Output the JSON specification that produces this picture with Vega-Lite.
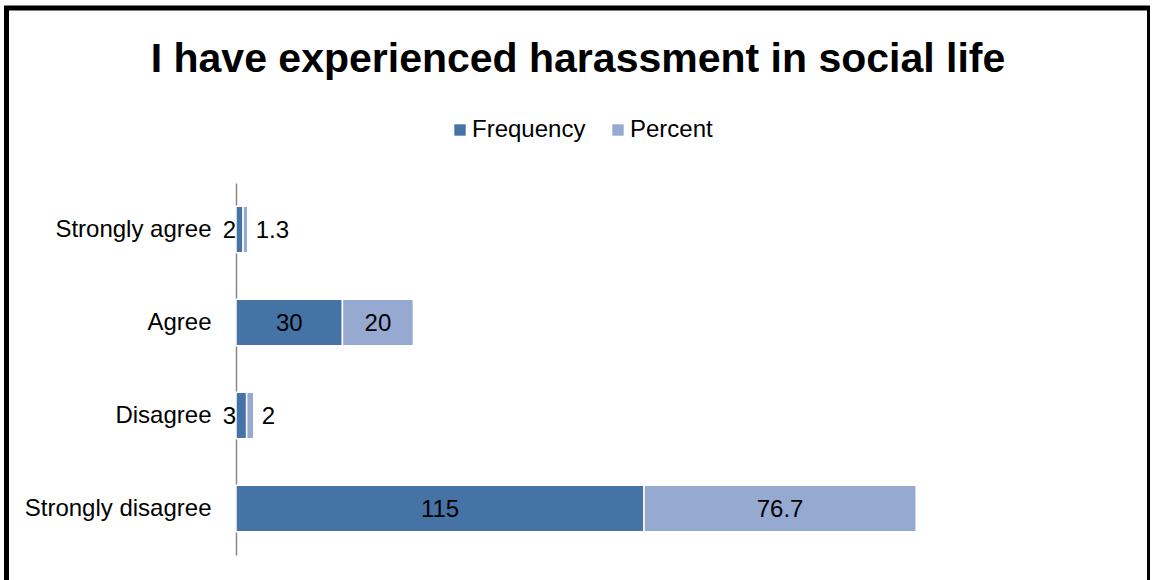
{
  "$schema": "https://vega.github.io/schema/vega-lite/v6.json",
  "width": 1143,
  "height": 585,
  "autosize": {"type": "none"},
  "padding": {"left": 6.5, "top": 8, "right": 0, "bottom": 0},
  "background": "white",
  "title": {
    "text": "I have experienced harassment in social life",
    "anchor": "middle",
    "frame": "group",
    "orient": "top",
    "offset": -65,
    "dy": 40,
    "baseline": "alphabetic",
    "fontSize": 41,
    "font": "Liberation Sans",
    "fontWeight": "bold",
    "color": "black"
  },
  "data": {
    "values": [
      {"category": "Strongly agree", "series": "Frequency", "order": 1, "value": 2},
      {"category": "Strongly agree", "series": "Percent", "order": 2, "value": 1.3},
      {"category": "Agree", "series": "Frequency", "order": 1, "value": 30},
      {"category": "Agree", "series": "Percent", "order": 2, "value": 20},
      {"category": "Disagree", "series": "Frequency", "order": 1, "value": 3},
      {"category": "Disagree", "series": "Percent", "order": 2, "value": 2},
      {"category": "Strongly disagree", "series": "Frequency", "order": 1, "value": 115},
      {"category": "Strongly disagree", "series": "Percent", "order": 2, "value": 76.7}
    ]
  },
  "transform": [
    {"stack": "value", "groupby": ["category"], "sort": [{"field": "order", "order": "ascending"}], "as": ["x0", "x1"]}
  ],
  "encoding": {
    "y": {
      "field": "category",
      "type": "nominal",
      "sort": ["Strongly agree", "Agree", "Disagree", "Strongly disagree"],
      "scale": {"range": [175, 547], "paddingInner": 0.5, "paddingOuter": 0.25},
      "axis": {
        "orient": "left",
        "offset": -229.5,
        "title": null,
        "ticks": false,
        "grid": false,
        "labelFontSize": 24,
        "labelFont": "Liberation Sans",
        "labelColor": "black",
        "labelPadding": 25,
        "labelLimit": 400,
        "domainColor": "#888888",
        "domainWidth": 1.5
      }
    }
  },
  "layer": [
    {
      "mark": {"type": "bar", "stroke": "white", "strokeWidth": 1.5},
      "encoding": {
        "x": {
          "field": "x0",
          "type": "quantitative",
          "scale": {"domain": [0, 200], "range": [229.5, 939.1], "nice": false, "zero": true},
          "axis": null
        },
        "x2": {"field": "x1"},
        "color": {
          "field": "series",
          "type": "nominal",
          "scale": {"domain": ["Frequency", "Percent"], "range": ["#4673A6", "#95A9D1"]},
          "legend": {
            "title": null,
            "orient": "none",
            "direction": "horizontal",
            "legendX": 441.5,
            "legendY": 110,
            "symbolType": "square",
            "symbolSize": 130,
            "symbolStrokeWidth": 0,
            "labelFontSize": 24,
            "labelFont": "Liberation Sans",
            "labelColor": "black",
            "labelOffset": 0,
            "columnPadding": 20
          }
        }
      }
    },
    {
      "transform": [
        {"filter": "datum.value >= 10"},
        {"calculate": "(datum.x0 + datum.x1) / 2", "as": "xmid"}
      ],
      "mark": {"type": "text", "fontSize": 24, "font": "Liberation Sans", "color": "black", "align": "center", "baseline": "middle", "dy": 1},
      "encoding": {
        "x": {"field": "xmid", "type": "quantitative"},
        "text": {"field": "value", "type": "quantitative"}
      }
    },
    {
      "transform": [{"filter": "datum.value < 10 && datum.series == 'Frequency'"}],
      "mark": {"type": "text", "fontSize": 24, "font": "Liberation Sans", "color": "black", "align": "right", "baseline": "middle", "dx": 0, "dy": 1},
      "encoding": {
        "x": {"field": "x0", "type": "quantitative"},
        "text": {"field": "value", "type": "quantitative"}
      }
    },
    {
      "transform": [{"filter": "datum.value < 10 && datum.series == 'Percent'"}],
      "mark": {"type": "text", "fontSize": 24, "font": "Liberation Sans", "color": "black", "align": "left", "baseline": "middle", "dx": 8, "dy": 1},
      "encoding": {
        "x": {"field": "x1", "type": "quantitative"},
        "text": {"field": "value", "type": "quantitative"}
      }
    }
  ],
  "config": {"view": {"stroke": "black", "strokeWidth": 5}}
}
